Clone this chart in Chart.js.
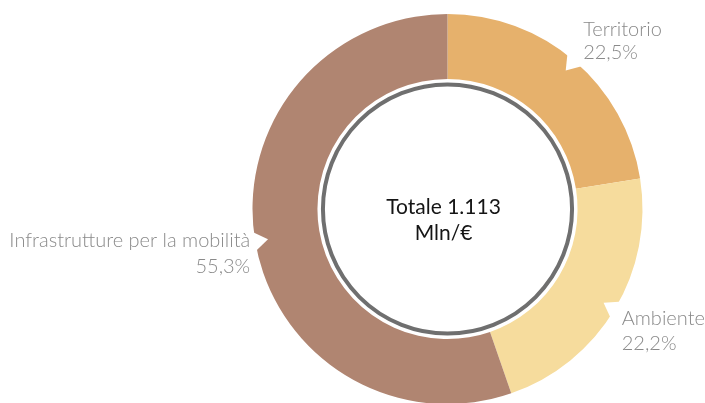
<!DOCTYPE html>
<html>
<head>
<meta charset="utf-8">
<script src="https://cdn.jsdelivr.net/npm/chart.js@4.4.1/dist/chart.umd.min.js"></script>
<style>
  html, body { margin: 0; padding: 0; background: #ffffff; overflow: hidden; }
  #wrap { width: 705px; height: 403px; overflow: hidden; position: relative; }
  canvas { display: block; }
</style>
</head>
<body>
<div id="wrap"><canvas id="c" width="705" height="410"></canvas></div>
<script>
// ---- data ----
const categories = ['Territorio', 'Ambiente', 'Infrastrutture per la mobilità'];
const shares = [22.5, 22.2, 55.3];
const sliceColors = ['#E6B16C', '#F6DC9D', '#B08571'];
const centerLines = ['Totale 1.113', 'Mln/€'];

const fmtPct = v => v.toFixed(1).replace('.', ',') + '%';

// label placement relative to each slice's notch point (style/layout only)
const labelLayout = [
  { dx: 9,  dy: -2, gap: 23, align: 'left'  },
  { dx: 7,  dy: 41, gap: 25, align: 'left'  },
  { dx: -5, dy: 32, gap: 26, align: 'right' }
];

const decorPlugin = {
  id: 'decor',
  afterDatasetsDraw(chart) {
    const ctx = chart.ctx;
    const meta = chart.getDatasetMeta(0);
    const arcs = meta.data;
    if (!arcs.length) return;
    const cx = arcs[0].x, cy = arcs[0].y;
    const R = arcs[0].outerRadius, r = arcs[0].innerRadius;

    // grey inner ring
    ctx.save();
    ctx.beginPath();
    ctx.arc(cx, cy, r - 5.5, 0, Math.PI * 2);
    ctx.lineWidth = 4;
    ctx.strokeStyle = '#6f6f6f';
    ctx.stroke();
    ctx.restore();

    // notches + labels
    arcs.forEach((arc, i) => {
      const mid = (arc.startAngle + arc.endAngle) / 2;
      const ux = Math.cos(mid), uy = Math.sin(mid);
      const px = -uy, py = ux;
      const bx = cx + ux * (R + 3), by = cy + uy * (R + 3);
      const tx = cx + ux * (R - 13), ty = cy + uy * (R - 13);
      ctx.save();
      ctx.beginPath();
      ctx.moveTo(bx + px * 11, by + py * 11);
      ctx.lineTo(tx, ty);
      ctx.lineTo(bx - px * 11, by - py * 11);
      ctx.closePath();
      ctx.fillStyle = '#ffffff';
      ctx.fill();
      ctx.restore();

      const nx = cx + ux * R, ny = cy + uy * R;
      const L = labelLayout[i];
      ctx.save();
      ctx.fillStyle = '#8a8a8a';
      ctx.font = '300 20px Lato, "Open Sans", sans-serif';
      ctx.textAlign = L.align;
      ctx.textBaseline = 'alphabetic';
      const x = nx + L.dx, y = ny + L.dy;
      ctx.fillText(categories[i], x, y - L.gap);
      ctx.fillText(fmtPct(shares[i]), x, y);
      ctx.restore();
    });

    // center text
    ctx.save();
    ctx.fillStyle = '#151515';
    ctx.font = '400 21px Lato, "Open Sans", sans-serif';
    ctx.textAlign = 'center';
    ctx.textBaseline = 'alphabetic';
    ctx.fillText(centerLines[0], cx - 4, cy + 5);
    ctx.fillText(centerLines[1], cx - 4, cy + 31);
    ctx.restore();
  }
};

new Chart(document.getElementById('c'), {
  type: 'doughnut',
  data: {
    labels: categories,
    datasets: [{
      data: shares,
      backgroundColor: sliceColors,
      borderWidth: 0,
      hoverOffset: 0
    }]
  },
  options: {
    responsive: false,
    animation: false,
    cutout: '66.7%',
    layout: { padding: { left: 190, right: 0, top: 14, bottom: 6 } },
    plugins: {
      legend: { display: false },
      tooltip: { enabled: false }
    }
  },
  plugins: [decorPlugin]
});
</script>
</body>
</html>
